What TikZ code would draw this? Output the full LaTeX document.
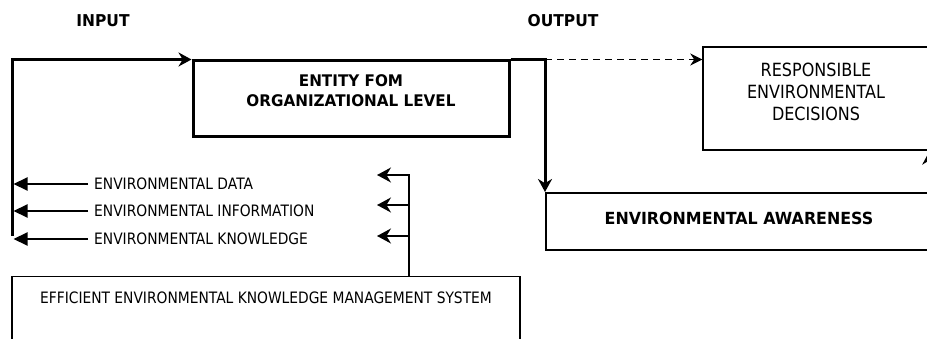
\documentclass[tikz,border=0pt]{standalone}
\usepackage{fontspec}
\setmainfont{DejaVu Sans}[UprightFeatures={FakeStretch=0.88}, BoldFeatures={FakeStretch=0.95}]
\usetikzlibrary{arrows.meta, positioning, calc}
\tikzset{
  boldline/.style={line width=3pt},
  thinline/.style={line width=1.6pt},
  boxframe/.style={rectangle, draw, line width=1.4pt, inner sep=0pt},
  headtext/.style={font=\bfseries\fontsize{16.3}{18}\selectfont},
  flowlabel/.style={anchor=west, inner sep=6pt, font=\fontsize{15.7}{18}\selectfont},
  bigtip/.style={-{Stealth[length=13pt, width=14pt]}},
  smalltip/.style={-{Stealth[length=14pt, width=15pt]}},
  flattip/.style={-{Triangle[length=14pt, width=13pt]}},
}

\begin{document}
\begin{tikzpicture}[x=1pt, y=-1pt]
\useasboundingbox (0,0) rectangle (927,339);

% headings
\node[headtext] (input) at (103,21) {INPUT};
\node[headtext] (output) at (563,21) {OUTPUT};

% main boxes
\node[boxframe, line width=3pt, minimum width=316pt, minimum height=76pt,
      font=\bfseries\fontsize{16}{20}\selectfont, text height=20pt, text depth=25pt] (entity) at (351,99)
      {\begin{tabular}{@{}c@{}}ENTITY FOM\\ORGANIZATIONAL LEVEL\end{tabular}};
\node[boxframe, minimum width=226pt, minimum height=103pt,
      font=\fontsize{18.2}{22}\selectfont, text height=33pt, text depth=34pt] (respbox) at (816,98.5)
      {\begin{tabular}{@{}c@{}}RESPONSIBLE\\ENVIRONMENTAL\\DECISIONS\end{tabular}};
\node[boxframe, line width=2pt, minimum width=386pt, minimum height=57pt,
      font=\bfseries\fontsize{16.7}{18}\selectfont, text height=12.2pt, text depth=6pt] (aware) at (739,221.5)
      {ENVIRONMENTAL AWARENESS};
\node[boxframe, anchor=north, minimum width=508pt, inner ysep=15pt, text depth=60pt,
      font=\fontsize{15.7}{18}\selectfont] (eekms) at (266,276)
      {EFFICIENT ENVIRONMENTAL KNOWLEDGE MANAGEMENT SYSTEM};

% input loop
\coordinate (loopbot) at (12,236);
\draw[boldline, bigtip] (loopbot) |- (entity.north west);

% output
\coordinate (outcorner) at (aware.north west |- entity.north east);
\draw[boldline, bigtip] (entity.north east) -| (aware.north west);
\draw[thinline, dash pattern=on 7pt off 5pt, -{Stealth[length=12pt, width=12pt]}] (outcorner) -- (respbox.west |- outcorner);
\draw[thinline, smalltip] (aware.north -| respbox.east) -- (respbox.south east);

% feedback labels
\node[flowlabel] (envdata) at (88,184) {ENVIRONMENTAL DATA};
\node[flowlabel] (envinfo) at (88,211) {ENVIRONMENTAL INFORMATION};
\node[flowlabel] (envknow) at (88,239) {ENVIRONMENTAL KNOWLEDGE};
\draw[line width=2pt, flattip, shorten >=1.5pt] (envdata.west) -- (envdata.west -| loopbot);
\draw[line width=2pt, flattip, shorten >=1.5pt] (envinfo.west) -- (envinfo.west -| loopbot);
\draw[line width=2pt, flattip, shorten >=1.5pt] (envknow.west) -- (envknow.west -| loopbot);

% system fork
\coordinate (fork1) at (409,175);
\coordinate (fork2) at (409,205);
\coordinate (fork3) at (409,236);
\coordinate[left=32pt of fork1] (tip1);
\coordinate[left=32pt of fork2] (tip2);
\coordinate[left=32pt of fork3] (tip3);
\draw[thinline, smalltip] (eekms.north -| fork1) -- (fork1) -- (tip1);
\draw[thinline, smalltip] (fork2) -- (tip2);
\draw[thinline, smalltip] (fork3) -- (tip3);
\end{tikzpicture}
\end{document}
